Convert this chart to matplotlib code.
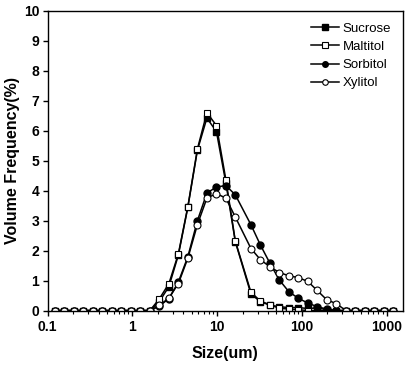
import matplotlib.pyplot as plt
from matplotlib.ticker import LogLocator, FixedLocator, NullFormatter, FuncFormatter

plt.rcParams['font.family'] = ['Liberation Sans', 'DejaVu Sans']

# size bins (um)
size = [0.122, 0.158, 0.204, 0.264, 0.342, 0.443, 0.574, 0.743, 0.962, 1.245,
        1.61, 2.08, 2.70, 3.49, 4.52, 5.86, 7.58, 9.82, 12.7, 16.4,
        25.1, 32.4, 42.0, 54.3, 70.3, 91.0, 118, 152, 197, 256,
        331, 428, 555, 718, 929, 1202]

zeros = [0] * 11
sucrose = zeros + [0.30, 0.80, 1.85, 3.45, 5.35, 6.42, 5.97, 4.25, 2.30,
                   0.55, 0.30, 0.18, 0.13, 0.10, 0.10, 0.07, 0.09, 0.03, 0,
                   0, 0, 0, 0, 0, 0]
maltitol = zeros + [0.39, 0.90, 1.89, 3.47, 5.39, 6.60, 6.17, 4.36, 2.32,
                    0.61, 0.32, 0.19, 0.08, 0.05, 0.03, 0, 0, 0, 0,
                    0, 0, 0, 0, 0, 0]
sorbitol = zeros + [0.15, 0.40, 0.95, 1.80, 3.00, 3.92, 4.12, 4.17, 3.86,
                    2.86, 2.19, 1.58, 1.02, 0.63, 0.41, 0.25, 0.13, 0.05, 0,
                    0, 0, 0, 0, 0, 0]
xylitol = zeros + [0.17, 0.42, 0.90, 1.75, 2.87, 3.75, 3.90, 3.75, 3.12,
                   2.07, 1.70, 1.46, 1.27, 1.16, 1.10, 0.97, 0.67, 0.36, 0.23,
                   0, 0, 0, 0, 0, 0]

fig = plt.figure(figsize=(4.14, 3.68), dpi=100)
ax = fig.add_axes([0.115, 0.156, 0.858, 0.815])

ms = 5
ax.plot(size, sucrose, '-s', color='black', lw=1.1, ms=ms, mfc='black', mec='black', label='Sucrose')
ax.plot(size, maltitol, '-s', color='black', lw=1.1, ms=ms, mfc='white', mec='black', mew=0.8, label='Maltitol')
ax.plot(size, sorbitol, '-o', color='black', lw=1.1, ms=ms, mfc='black', mec='black', label='Sorbitol')
ax.plot(size, xylitol, '-o', color='black', lw=1.1, ms=ms, mfc='white', mec='black', mew=0.8, label='Xylitol')

ax.set_xscale('log')
ax.set_xlim(0.1, 1555)
ax.set_ylim(0, 10)

ax.xaxis.set_major_locator(FixedLocator([0.1, 1, 10, 100, 1000]))
ax.xaxis.set_major_formatter(FuncFormatter(lambda v, p: '%g' % v))
ax.xaxis.set_minor_locator(LogLocator(base=10, subs=range(2, 10)))
ax.xaxis.set_minor_formatter(NullFormatter())
ax.set_yticks(range(0, 11))

ax.tick_params(direction='out', which='major', length=3.5, width=1, top=False, right=False)
ax.tick_params(direction='out', which='minor', length=2, width=0.8, top=False, right=False)
ax.tick_params(axis='x', which='major', pad=3)
ax.tick_params(axis='y', which='major', pad=2.5)
for lab in ax.get_xticklabels() + ax.get_yticklabels():
    lab.set_fontweight('bold')
    lab.set_fontsize(10)
for s in ax.spines.values():
    s.set_linewidth(1)

ax.set_xlabel('Size(um)', fontsize=11.5, fontweight='bold', labelpad=9)
ax.set_ylabel('Volume Frequency(%)', fontsize=11.5, fontweight='bold', labelpad=3)

ax.legend(loc='upper right', frameon=False, fontsize=9.5, handlelength=2.1,
          handletextpad=0.25, labelspacing=0.45, borderaxespad=0.5, markerscale=0.8)

fig.savefig('out.png', dpi=100)
